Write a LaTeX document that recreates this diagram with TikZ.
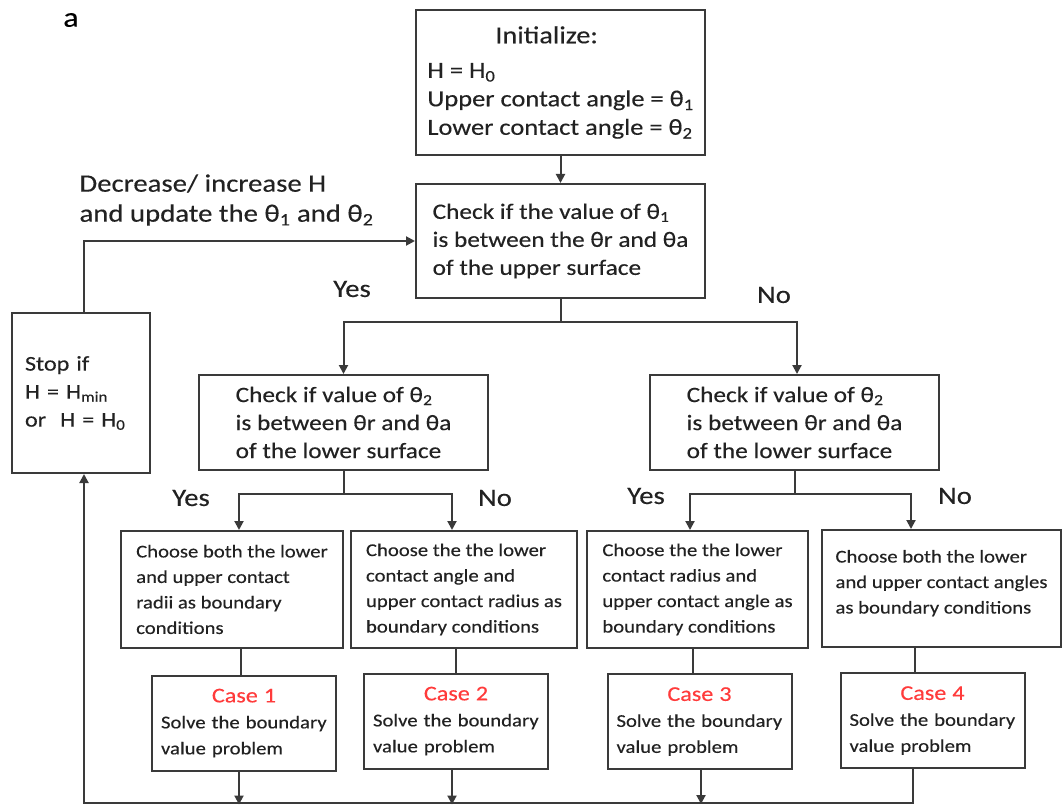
\documentclass[tikz,border=0pt]{standalone}
\usepackage{fontspec}
\setmainfont{Carlito}[FakeStretch=1.15, FakeBold=0.3]
\usepackage{tikz}
\usetikzlibrary{arrows.meta, positioning}
\definecolor{inkgray}{HTML}{3A3A3A}
\definecolor{textgray}{HTML}{222222}
\definecolor{casered}{HTML}{FF3B3B}
\tikzset{
  flowbox/.style={
    draw=inkgray, line width=2pt, align=left, fill=white,
    text=textgray, inner sep=0pt
  },
  checkbox/.style={
    flowbox, minimum width=289pt, minimum height=95pt,
    font=\fontsize{22}{28}\selectfont
  },
  choosebox/.style={
    flowbox, minimum height=117pt,
    font=\fontsize{18}{25.5}\selectfont
  },
  casebox/.style={
    flowbox, minimum width=184pt, minimum height=95pt, text width=166pt,
    font=\fontsize{18}{26}\selectfont
  },
  flowline/.style={draw=inkgray, line width=2pt},
  flowarrow/.style={flowline, -{Triangle[length=9pt,width=9pt]}},
  branchlabel/.style={font=\fontsize{25}{30}\selectfont, text=textgray},
}

\begin{document}
\begin{tikzpicture}[x=1pt, y=-1pt]
  \useasboundingbox (0,0) rectangle (1062,805);

  % Panel letter
  \node[font=\fontsize{28}{30}\selectfont] (tag) at (71,20) {a};

  % Initialization and first check
  \node[flowbox, minimum width=289pt, minimum height=145pt,
    font=\fontsize{23}{28.5}\selectfont] (init) at (560.5,82.5)
    {\hspace*{68pt}{\fontsize{24.5}{28}\selectfont Initialize:}\\[6pt]
     H = H\textsubscript{0}\\
     Upper contact angle = θ\textsubscript{1}\\
     Lower contact angle = θ\textsubscript{2}};
  \node[checkbox, minimum height=114pt] (check1) at (560.5,241)
    {Check if the value of θ\textsubscript{1}\\
     is between the θr and θa\\
     of the upper surface};

  % Second checks
  \node[checkbox] (check2L) at (343.5,422.5)
    {Check if value of θ\textsubscript{2}\\
     is between θr and θa\\
     of the lower surface};
  \node[checkbox] (check2R) at (794.5,422.5)
    {Check if value of θ\textsubscript{2}\\
     is between θr and θa\\
     of the lower surface};

  % Stop test
  \node[flowbox, minimum width=138pt, minimum height=160pt, text width=112pt,
    inner xsep=13pt, font=\fontsize{21}{28}\selectfont] (stop) at (81,393)
    {Stop if\\
     H = H\textsubscript{min}\\
     or\ \ H = H\textsubscript{0}};

  % Boundary conditions
  \node[choosebox, minimum width=222pt] (choose1) at (232,589.5)
    {Choose both the lower\\ and upper contact\\ radii as boundary\\ conditions};
  \node[choosebox, minimum width=226pt] (choose2) at (464,589.5)
    {Choose the the lower\\ contact angle and\\ upper contact radius as\\ boundary conditions};
  \node[choosebox, minimum width=221pt] (choose3) at (697.5,589.5)
    {Choose the the lower\\ contact radius and\\ upper contact angle as\\ boundary conditions};
  \node[choosebox, minimum width=239pt] (choose4) at (941.5,588.5)
    {Choose both the lower\\ and upper contact angles\\ as boundary conditions\\[-12pt]};

  % Cases
  \node[casebox] (case1) at (244,723)
    {\makebox[\linewidth]{\color{casered}\fontsize{21}{26}\selectfont Case 1}\\
     Solve~the~boundary\\ value~problem};
  \node[casebox] (case2) at (456,721)
    {\makebox[\linewidth]{\color{casered}\fontsize{21}{26}\selectfont Case 2}\\
     Solve~the~boundary\\ value~problem};
  \node[casebox] (case3) at (699.5,721.5)
    {\makebox[\linewidth]{\color{casered}\fontsize{21}{26}\selectfont Case 3}\\
     Solve~the~boundary\\ value~problem};
  \node[casebox] (case4) at (932.5,720.5)
    {\makebox[\linewidth]{\color{casered}\fontsize{21}{26}\selectfont Case 4}\\
     Solve~the~boundary\\ value~problem};

  % Branch labels
  \node[branchlabel] (yes1) at (352,289) {Yes};
  \node[branchlabel] (no1) at (774,295) {No};
  \node[branchlabel] (yes2) at (191,498) {Yes};
  \node[branchlabel] (no2) at (495,498) {No};
  \node[branchlabel] (yes3) at (646,496) {Yes};
  \node[branchlabel] (no3) at (955,496) {No};
  \node[branchlabel, anchor=west, align=left] (update) at (76,200)
    {Decrease/ increase H\\
     and update the θ\textsubscript{1} and θ\textsubscript{2}};

  % Connectors
  \draw[flowarrow] (init) -- (check1);
  \draw[flowarrow] (check1.south) -- ++(0,23) -| (check2L.north);
  \draw[flowarrow] (check1.south) -- ++(0,23) -| ([xshift=2.5pt]check2R.north);
  \draw[flowarrow] (check2L.south) -- ++(0,23) -| ([xshift=7pt]choose1.north);
  \draw[flowarrow] (check2L.south) -- ++(0,23) -| ([xshift=-12pt]choose2.north);
  \draw[flowarrow] (check2R.south) -- ++(0,23) -| ([xshift=-7.5pt]choose3.north);
  \draw[flowarrow] (check2R.south) -- ++(0,23) -| ([xshift=-30.5pt]choose4.north);

  \draw[flowline] ([xshift=9pt]choose1.south) -- ([xshift=-3pt]case1.north);
  \draw[flowline] ([xshift=-8pt]choose2.south) -- (case2.north);
  \draw[flowline] ([xshift=-4.5pt]choose3.south) -- ([xshift=-6.5pt]case3.north);
  \draw[flowline] ([xshift=-26.5pt]choose4.south) -- ([xshift=-17.5pt]case4.north);

  % Return loop
  \coordinate (loopL) at (84,803);
  \draw[flowarrow] ([xshift=-5pt]case1.south) -- ++(0,33);
  \draw[flowarrow] ([xshift=-4pt]case2.south) -- ++(0,35);
  \draw[flowarrow] ([xshift=1.5pt]case3.south) -- ++(0,34);
  \draw[flowarrow] ([xshift=-19.5pt]case4.south) |- (loopL) -- (loopL |- stop.south);
  \draw[flowarrow] (stop.north -| loopL) |- (check1.west);
\end{tikzpicture}
\end{document}
